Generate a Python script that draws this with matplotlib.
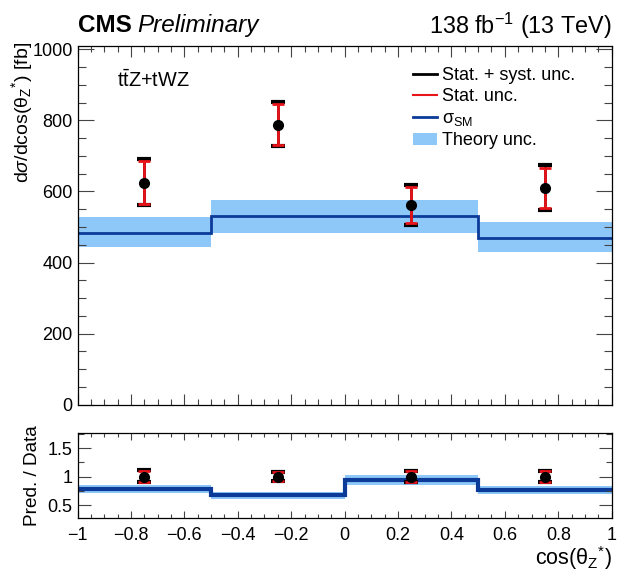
import numpy as np
import matplotlib
matplotlib.use("Agg")
import matplotlib.pyplot as plt
from matplotlib.ticker import MultipleLocator
from matplotlib.lines import Line2D
from matplotlib.patches import Patch

plt.rcParams['font.family'] = ['Liberation Sans', 'DejaVu Sans']
plt.rcParams['mathtext.fontset'] = 'custom'
plt.rcParams['mathtext.rm'] = 'Liberation Sans'
plt.rcParams['mathtext.it'] = 'Liberation Sans:italic'
plt.rcParams['mathtext.bf'] = 'Liberation Sans:bold'

# data
edges = [-1.0, -0.5, 0.0, 0.5, 1.0]
centers = [-0.75, -0.25, 0.25, 0.75]
data = [623, 788, 561, 609]
tot_up = [68, 64, 56, 64]
tot_dn = [62, 61, 55, 61]
stat_up = [62, 58, 51, 58]
stat_dn = [57, 56, 50, 56]
sm = [484, 530, 532, 469]
sm_hi = [528, 577, 577, 513]
sm_lo = [443, 484, 484, 429]

data = np.array(data, float)
band_col = '#8ec8f8'
line_col = '#0b3a98'
red = '#e8141a'

fig = plt.figure(figsize=(6.25, 5.77), dpi=100)
ax = fig.add_axes([0.124, 0.2986, 0.8547, 0.6222])
rax = fig.add_axes([0.124, 0.1017, 0.8547, 0.1473])

# main panel
ax.stairs(sm_hi, edges, baseline=sm_lo, fill=True, color=band_col, lw=0)
ax.stairs(sm, edges, baseline=None, color=line_col, lw=2)
ax.errorbar(centers, data, yerr=[tot_dn, tot_up], fmt='none', ecolor='black',
            elinewidth=2, capsize=5, capthick=3)
ax.errorbar(centers, data, yerr=[stat_dn, stat_up], fmt='none', ecolor=red,
            elinewidth=2, capsize=4.5, capthick=2)
ax.plot(centers, data, 'o', color='black', ms=7)

ax.set_xlim(-1, 1)
ax.set_ylim(0, 1010)
ax.set_ylabel(r'd$\sigma$/dcos($\mathrm{\theta}_{\mathrm{Z}}{}^{*}$) [fb]', fontsize=14,
              loc='top')
ax.yaxis.set_label_coords(-0.08, 1.01)
ax.set_xticklabels([])

ax.text(0.074, 0.905, r't$\mathrm{\bar{t}}$Z+tWZ', transform=ax.transAxes,
        fontsize=14.3, va='center', ha='left')

handles = [Line2D([], [], color='black', lw=2),
           Line2D([], [], color=red, lw=1.5),
           Line2D([], [], color=line_col, lw=2),
           Patch(facecolor=band_col, edgecolor='none')]
labels = ['Stat. + syst. unc.', 'Stat. unc.', r'$\mathrm{\sigma_{SM}}$', 'Theory unc.']
ax.legend(handles, labels, loc='upper left', bbox_to_anchor=(0.612, 0.966),
          frameon=False, fontsize=13, handlelength=1.3, handletextpad=0.3,
          labelspacing=0.25, borderpad=0)

# ratio panel
ratio = np.array(sm) / data
ratio_hi = np.array(sm_hi) / data
ratio_lo = np.array(sm_lo) / data
rax.stairs(ratio_hi, edges, baseline=ratio_lo, fill=True, color=band_col, lw=0)
rax.stairs(ratio, edges, baseline=None, color=line_col, lw=3)
ones = np.ones(4)
rax.errorbar(centers, ones, yerr=[np.array(tot_dn) / data, np.array(tot_up) / data],
             fmt='none', ecolor='black', elinewidth=2, capsize=5, capthick=3)
rax.errorbar(centers, ones, yerr=[np.array(stat_dn) / data, np.array(stat_up) / data],
             fmt='none', ecolor=red, elinewidth=2, capsize=4.5, capthick=2)
rax.plot(centers, ones, 'o', color='black', ms=7)
rax.set_xlim(-1, 1)
rax.set_ylim(0.27, 1.76)
rax.set_yticks([0.5, 1, 1.5])
rax.set_yticklabels(['0.5', '1', '1.5'])
rax.set_ylabel('Pred. / Data', fontsize=13.7)
rax.yaxis.set_label_coords(-0.068, 0.5)
rax.set_xlabel(r'cos($\mathrm{\theta}_{\mathrm{Z}}{}^{*}$)', fontsize=15.5, loc='right')
rax.xaxis.set_label_coords(1.0, -0.30)

# ticks
for a in (ax, rax):
    a.xaxis.set_major_locator(MultipleLocator(0.2))
    a.xaxis.set_minor_locator(MultipleLocator(0.05))
    a.tick_params(which='both', direction='in', top=True, right=True,
                  labelsize=13, width=0.8, color='#444444')
    for s in a.spines.values():
        s.set_linewidth(0.9)
ax.yaxis.set_major_locator(MultipleLocator(200))
ax.yaxis.set_minor_locator(MultipleLocator(50))
ax.tick_params(axis='y', which='major', length=11.5)
ax.tick_params(axis='y', which='minor', length=6)
ax.tick_params(axis='x', which='major', length=8)
ax.tick_params(axis='x', which='minor', length=4.5)
rax.yaxis.set_minor_locator(MultipleLocator(0.25))
rax.tick_params(axis='y', which='major', length=9.5)
rax.tick_params(axis='y', which='minor', length=4.5)
rax.tick_params(axis='x', which='major', length=5)
rax.tick_params(axis='x', which='minor', length=3)
rax.tick_params(axis='x', pad=6)

ax.xaxis.set_major_formatter(plt.NullFormatter())
rax.xaxis.set_major_formatter(plt.FuncFormatter(
    lambda v, p: ('%g' % round(v, 2)).replace('-', '\u2212')))

# header
fig.text(0.1248, 0.955, 'CMS', fontsize=17.5, fontweight='bold', ha='left', va='center')
fig.text(0.2192, 0.955, 'Preliminary', fontsize=17.5, style='italic', ha='left', va='center')
fig.text(0.979, 0.955, r'138 fb$^{-1}$ (13 TeV)', fontsize=16.8, ha='right', va='center')

fig.savefig('out.png', dpi=100)
